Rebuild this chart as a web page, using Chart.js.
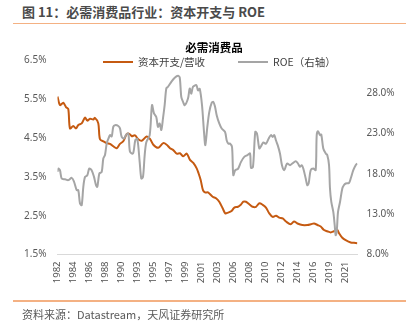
<!DOCTYPE html>
<html lang="zh">
<head>
<meta charset="UTF-8">
<title>必需消费品行业：资本开支与 ROE</title>
<script src="https://cdn.jsdelivr.net/npm/chart.js"></script>
<style>
  body { margin: 0; background: #fff; }
  .wrap { position: relative; width: 414px; height: 332px; overflow: hidden; }
  .wrap canvas { position: absolute; left: 0; top: 0; }
  .hdr {
    position: absolute; left: 22px; top: 3px;
    font: bold 13px "Noto Sans CJK SC", sans-serif; color: #4a4a4a;
    line-height: 18px; white-space: nowrap;
  }
  .rule { position: absolute; left: 13px; width: 393px; height: 1.5px; background: #f4b183; }
  .rule.top { top: 22.5px; }
  .rule.bottom { top: 300px; }
  .src {
    position: absolute; left: 22px; top: 306px;
    font: 11px "Noto Sans CJK SC", sans-serif; color: #595959;
    line-height: 16px; white-space: nowrap;
  }
  .legend {
    position: absolute; top: 54px; left: 0;
    font: 10.5px "Noto Sans CJK SC", sans-serif; color: #404040;
    line-height: 15px; white-space: nowrap;
  }
  .legend .item { position: absolute; top: 0; }
  .legend .swatch { position: absolute; top: 6.5px; width: 30px; height: 2px; }
  .legend .txt { position: absolute; top: 0; }
</style>
</head>
<body>
<div class="wrap">
  <div class="hdr">图 11：必需消费品行业：资本开支与 ROE</div>
  <div class="rule top"></div>
  <canvas id="chart" width="414" height="332"></canvas>
  <div class="legend">
    <div class="item" style="left:103px"><span class="swatch" style="left:0;background:#c55a11"></span><span class="txt" style="left:35px">资本开支/营收</span></div>
    <div class="item" style="left:238px"><span class="swatch" style="left:0;background:#a5a5a5"></span><span class="txt" style="left:35px">ROE（右轴）</span></div>
  </div>
  <div class="rule bottom"></div>
  <div class="src">资料来源：Datastream，天风证券研究所</div>
</div>

<script>
// 资本开支/营收 (%)
const capexYears = [
  1982.25, 1982.59, 1983.04, 1983.40, 1983.71, 1983.94, 1984.39, 1984.76, 1985.07, 1985.53,
  1985.98, 1986.29, 1986.66, 1987.10, 1987.33, 1987.78, 1988.01, 1988.55, 1988.92, 1989.37,
  1989.81, 1990.28, 1990.72, 1991.17, 1991.63, 1991.98, 1992.31, 1992.76, 1993.20, 1993.66,
  1994.34, 1994.79, 1995.24, 1995.91, 1996.59, 1997.05, 1997.50, 1997.95, 1998.41, 1998.86,
  1999.30, 1999.76, 2000.21, 2000.66, 2001.12, 2001.36, 2001.66, 2001.97, 2002.25, 2002.65,
  2003.29, 2003.74, 2004.18, 2004.64, 2005.00, 2005.36, 2005.84, 2006.22, 2006.72, 2007.13,
  2007.44, 2007.80, 2008.28, 2008.71, 2009.16, 2009.61, 2010.07, 2010.51, 2010.96, 2011.42,
  2011.87, 2012.32, 2012.78, 2013.23, 2013.86, 2014.31, 2014.78, 2015.44, 2016.14, 2016.61,
  2017.02, 2017.50, 2017.93, 2018.38, 2018.82, 2019.29, 2019.73, 2020.18, 2020.41, 2020.86,
  2021.32, 2022.00, 2022.44, 2022.89
];
const capexRatio = [
  5.57, 5.35, 5.41, 5.30, 5.25, 4.75, 4.81, 4.75, 4.84, 4.88,
  5.03, 4.95, 5.00, 4.98, 5.02, 4.88, 4.47, 4.41, 4.37, 4.35,
  4.29, 4.24, 4.35, 4.42, 4.60, 4.61, 4.55, 4.57, 4.47, 4.43,
  4.54, 4.48, 4.33, 4.25, 4.37, 4.33, 4.24, 4.19, 4.10, 4.11,
  4.03, 4.10, 3.94, 3.86, 3.72, 3.60, 3.42, 3.16, 3.10, 3.10,
  2.99, 2.95, 2.86, 2.69, 2.56, 2.58, 2.62, 2.71, 2.73, 2.79,
  2.86, 2.86, 2.79, 2.73, 2.73, 2.82, 2.78, 2.71, 2.56, 2.47,
  2.50, 2.45, 2.43, 2.35, 2.28, 2.35, 2.30, 2.26, 2.26, 2.28,
  2.30, 2.26, 2.22, 2.13, 2.10, 2.07, 2.10, 2.13, 2.05, 1.93,
  1.87, 1.81, 1.80, 1.79
];

// ROE (%), right axis
const roeYears = [
  1982.25, 1982.36, 1982.59, 1982.82, 1983.27, 1983.71, 1984.18, 1984.49, 1984.85, 1985.07,
  1985.30, 1985.53, 1985.75, 1985.98, 1986.29, 1986.56, 1986.89, 1987.20, 1987.47, 1987.65,
  1987.92, 1988.24, 1988.46, 1988.69, 1988.92, 1989.14, 1989.37, 1989.60, 1989.81, 1990.05,
  1990.49, 1990.72, 1990.95, 1991.27, 1991.54, 1991.85, 1992.08, 1992.49, 1992.80, 1993.07,
  1993.39, 1993.61, 1993.84, 1994.07, 1994.29, 1994.75, 1995.06, 1995.33, 1995.64, 1995.87,
  1996.10, 1996.32, 1996.55, 1996.78, 1997.00, 1997.23, 1997.68, 1998.14, 1998.59, 1998.82,
  1999.03, 1999.26, 1999.49, 1999.94, 2000.17, 2000.39, 2000.62, 2001.07, 2001.30, 2001.53,
  2001.84, 2002.11, 2002.29, 2002.56, 2002.83, 2003.15, 2003.37, 2003.60, 2003.83, 2004.18,
  2004.51, 2004.96, 2005.19, 2005.43, 2005.63, 2005.91, 2006.08, 2006.35, 2006.72, 2007.13,
  2007.57, 2008.01, 2008.35, 2008.48, 2008.75, 2009.06, 2009.29, 2009.61, 2009.84, 2010.15,
  2010.51, 2010.88, 2011.19, 2011.42, 2011.64, 2011.87, 2012.10, 2012.41, 2012.68, 2012.99,
  2013.23, 2013.40, 2013.77, 2014.08, 2014.54, 2014.85, 2015.12, 2015.35, 2015.57, 2015.90,
  2016.11, 2016.30, 2016.57, 2016.93, 2017.25, 2017.39, 2017.56, 2017.84, 2018.01, 2018.28,
  2018.61, 2018.82, 2019.06, 2019.19, 2019.37, 2019.64, 2019.83, 2019.96, 2020.10, 2020.28,
  2020.55, 2020.86, 2021.09, 2021.32, 2021.77, 2022.00, 2022.35, 2022.67, 2022.89
];
const roe = [
  18.22, 18.64, 18.40, 17.40, 17.30, 17.20, 17.48, 17.00, 15.96, 15.96,
  14.30, 14.10, 16.37, 17.60, 17.80, 18.64, 18.40, 17.60, 16.58, 16.37,
  18.02, 18.20, 19.88, 20.30, 21.74, 22.30, 22.77, 22.60, 23.79, 24.00,
  23.90, 23.60, 22.55, 22.35, 22.80, 22.97, 20.70, 20.50, 22.15, 22.30,
  19.46, 17.40, 17.60, 20.29, 21.90, 22.77, 26.48, 25.45, 25.00, 23.79,
  24.20, 23.40, 24.83, 26.50, 28.54, 28.75, 29.36, 29.86, 30.10, 29.90,
  27.50, 26.90, 26.48, 27.30, 28.54, 27.90, 28.74, 28.95, 28.30, 28.50,
  26.48, 23.17, 21.53, 23.79, 25.65, 26.76, 26.89, 26.30, 25.24, 24.21,
  23.59, 23.17, 22.10, 21.70, 21.74, 21.30, 17.81, 18.43, 18.60, 19.46,
  20.08, 20.30, 20.50, 18.72, 18.85, 23.17, 22.97, 21.12, 21.40, 21.86,
  21.70, 22.36, 22.77, 22.55, 22.77, 22.10, 21.53, 20.50, 19.05, 18.43,
  19.00, 19.26, 19.05, 19.26, 19.55, 19.26, 18.85, 19.05, 18.64, 17.40,
  16.58, 16.80, 18.43, 18.64, 18.43, 22.77, 23.26, 22.77, 22.85, 21.12,
  20.50, 20.30, 19.05, 16.17, 14.51, 13.27, 11.62, 10.39, 10.80, 13.27,
  14.50, 16.17, 16.60, 16.79, 16.85, 17.40, 18.43, 19.05, 19.26
];

// axis ticks
const xTickLabels = ['1982', '1984', '1986', '1988', '1990', '1993', '1995', '1997', '1999', '2001',
  '2003', '2006', '2008', '2010', '2012', '2014', '2016', '2019', '2021'];
const leftTicks = [1.5, 2.5, 3.5, 4.5, 5.5, 6.5];
const rightTicks = [8, 13, 18, 23, 28];

const xStart = 1982.25;          // first monthly point
const labelStep = 26 / 12;       // one label every 26 months

const toPoints = (xs, ys) => xs.map((x, i) => ({ x: x, y: ys[i] }));
const tickFont = { family: "'Noto Sans', sans-serif", size: 10 };

new Chart(document.getElementById('chart'), {
  type: 'line',
  data: {
    datasets: [
      {
        label: '资本开支/营收',
        data: toPoints(capexYears, capexRatio),
        borderColor: '#c55a11',
        borderWidth: 2,
        pointRadius: 0,
        tension: 0.3,
        yAxisID: 'y',
        order: 2
      },
      {
        label: 'ROE（右轴）',
        data: toPoints(roeYears, roe),
        borderColor: '#a5a5a5',
        borderWidth: 2,
        pointRadius: 0,
        tension: 0.3,
        yAxisID: 'y1',
        order: 1
      }
    ]
  },
  options: {
    responsive: false,
    animation: false,
    devicePixelRatio: 1,
    layout: { padding: { left: 22, right: 8, top: 30, bottom: 37.5 } },
    plugins: {
      legend: { display: false },
      tooltip: { enabled: false },
      title: {
        display: true,
        text: '必需消费品',
        color: '#000',
        font: { family: "'Noto Sans CJK SC', sans-serif", size: 11.5, weight: 'bold' },
        padding: { top: 10.6, bottom: 6.1 }
      }
    },
    scales: {
      x: {
        type: 'linear',
        min: xStart,
        max: 2022.92,
        grid: { display: false, drawTicks: false },
        border: { display: true, color: '#d9d9d9', width: 1 },
        afterBuildTicks: (axis) => {
          axis.ticks = xTickLabels.map((_, i) => ({ value: xStart + i * labelStep }));
        },
        afterFit: (axis) => { axis.height = 40; },
        ticks: {
          autoSkip: false,
          minRotation: 90,
          maxRotation: 90,
          padding: 7,
          color: '#505050',
          font: { family: "'Noto Sans', sans-serif", size: 9.5 },
          callback: (value, index) => xTickLabels[index]
        }
      },
      y: {
        position: 'left',
        min: 1.5,
        max: 6.5,
        grid: { display: false, drawTicks: false },
        border: { display: false },
        afterBuildTicks: (axis) => { axis.ticks = leftTicks.map(v => ({ value: v })); },
        afterFit: (axis) => { axis.width = 35.5; },
        ticks: {
          padding: 11,
          color: '#595959',
          font: tickFont,
          callback: (v) => v.toFixed(1) + '%'
        }
      },
      y1: {
        position: 'right',
        min: 8,
        max: 32,
        grid: { display: false, drawTicks: false },
        border: { display: false },
        afterBuildTicks: (axis) => { axis.ticks = rightTicks.map(v => ({ value: v })); },
        afterFit: (axis) => { axis.width = 48.5; },
        ticks: {
          padding: 9,
          color: '#595959',
          font: tickFont,
          callback: (v) => v.toFixed(1) + '%'
        }
      }
    }
  }
});
</script>
</body>
</html>
